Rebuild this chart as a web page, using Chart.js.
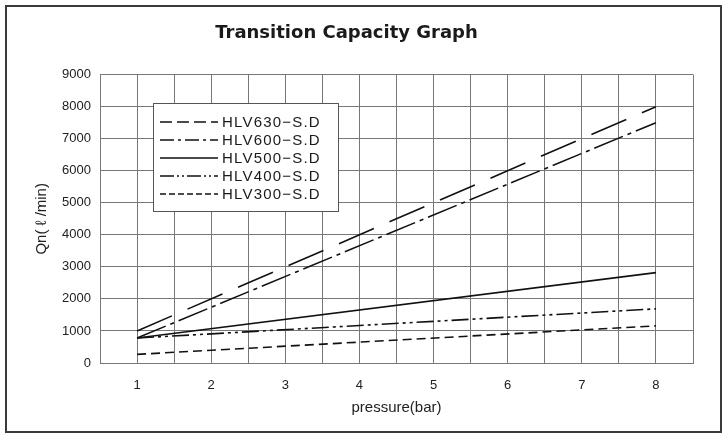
<!DOCTYPE html>
<html>
<head>
<meta charset="utf-8">
<script src="https://cdn.jsdelivr.net/npm/chart.js@4.4.0/dist/chart.umd.min.js"></script>
<style>
  html, body { margin: 0; padding: 0; background: #fff; }
  #wrap { position: relative; width: 727px; height: 435px; }
</style>
</head>
<body>
<div id="wrap"><canvas id="capChart" width="727" height="435"></canvas></div>
<script>
// values (lines are straight, so the end points are enough)
const pressure = [1, 8];
const hlv630 = [1000, 8000];
const hlv600 = [780, 7500];
const hlv500 = [780, 2820];
const hlv400 = [780, 1690];
const hlv300 = [270, 1160];

const seriesNames = ['HLV630\u2212S.D', 'HLV600\u2212S.D', 'HLV500\u2212S.D', 'HLV400\u2212S.D', 'HLV300\u2212S.D'];
const seriesValues = [hlv630, hlv600, hlv500, hlv400, hlv300];

// dash patterns: on the plot and the shorter ones used in the legend box
const plotDash = [[38, 17], [31, 5, 4, 5], [], [17, 4, 3, 4, 3, 4], [9, 5]];
const legendDash = [[12, 5], [14, 4, 3, 4], [], [14, 3, 2, 3, 2, 3], [6, 3]];

const yTicks = [0, 1000, 2000, 3000, 4000, 5000, 6000, 7000, 8000, 9000];

function toPoints(vals) {
    return pressure.map((p, i) => ({ x: p, y: vals[i] }));
}

// frame round the whole picture
const framePlugin = {
    id: 'frame',
    afterDraw(chart) {
        const ctx = chart.ctx;
        ctx.save();
        ctx.strokeStyle = '#3a3a3a';
        ctx.lineWidth = 2;
        ctx.strokeRect(6, 6, 715, 426);
        ctx.restore();
    }
};

// legend drawn inside the plot, as in the original
const boxLegend = {
    id: 'boxLegend',
    afterDatasetsDraw(chart) {
        const ctx = chart.ctx;
        const bx = 153, by = 103, bw = 185, bh = 108;
        ctx.save();
        ctx.fillStyle = '#fff';
        ctx.fillRect(bx, by, bw, bh);
        ctx.strokeStyle = '#555';
        ctx.lineWidth = 1;
        ctx.strokeRect(bx + 0.5, by + 0.5, bw, bh);
        ctx.font = '15px "Liberation Sans", Arial, sans-serif';
        ctx.fillStyle = '#1a1a1a';
        ctx.textBaseline = 'middle';
        if ('letterSpacing' in ctx) ctx.letterSpacing = '1.2px';
        chart.data.datasets.forEach((ds, i) => {
            const y = by + 19 + i * 18;
            ctx.beginPath();
            ctx.setLineDash(legendDash[i]);
            ctx.strokeStyle = '#111';
            ctx.lineWidth = 1.5;
            ctx.moveTo(160, y);
            ctx.lineTo(218, y);
            ctx.stroke();
            ctx.setLineDash([]);
            ctx.fillText(ds.label, 222, y + 1);
        });
        ctx.restore();
    }
};

const ctx = document.getElementById('capChart').getContext('2d');
const capChart = new Chart(ctx, {
    type: 'line',
    data: {
        datasets: seriesNames.map((name, i) => ({
            label: name,
            data: toPoints(seriesValues[i]),
            borderColor: '#111',
            borderWidth: 1.6,
            borderDash: plotDash[i],
            pointRadius: 0,
            fill: false,
            tension: 0
        }))
    },
    options: {
        responsive: false,
        animation: false,
        layout: { padding: { left: 0, right: 34, top: 0, bottom: 0 } },
        scales: {
            x: {
                type: 'linear',
                min: 0.5,
                max: 8.5,
                afterFit(scale) { scale.height = 72; },
                ticks: {
                    stepSize: 0.5,
                    padding: 15,
                    color: '#222',
                    font: { family: '"Liberation Sans", Arial, sans-serif', size: 13 },
                    callback: (v) => Number.isInteger(v) ? String(v) : '',
                    maxRotation: 0,
                    autoSkip: false
                },
                grid: { color: '#777', lineWidth: 1, drawTicks: false },
                border: { color: '#777' },
                title: {
                    display: true,
                    text: 'pressure(bar)',
                    color: '#222',
                    font: { family: '"Liberation Sans", Arial, sans-serif', size: 15 },
                    padding: { top: 0, bottom: 18 }
                }
            },
            y: {
                min: 0,
                max: 9000,
                afterFit(scale) { scale.width = 100; },
                afterBuildTicks(scale) { scale.ticks = yTicks.map(v => ({ value: v })); },
                ticks: {
                    padding: 9,
                    color: '#222',
                    font: { family: '"Liberation Sans", Arial, sans-serif', size: 13 },
                    callback: (v) => String(v)
                },
                grid: { color: '#777', lineWidth: 1, drawTicks: false },
                border: { color: '#777' },
                title: {
                    display: true,
                    text: 'Qn( \u2113 /min)',
                    color: '#222',
                    font: { family: '"Liberation Sans", Arial, sans-serif', size: 15 },
                    padding: { top: 33, bottom: 0 }
                }
            }
        },
        plugins: {
            legend: { display: false },
            tooltip: { enabled: false },
            title: {
                display: true,
                text: 'Transition Capacity Graph',
                color: '#1a1a1a',
                font: { family: '"DejaVu Sans", sans-serif', size: 18, weight: 'bold' },
                padding: { top: 23, bottom: 30 }
            }
        }
    },
    plugins: [framePlugin, boxLegend]
});
</script>
</body>
</html>
